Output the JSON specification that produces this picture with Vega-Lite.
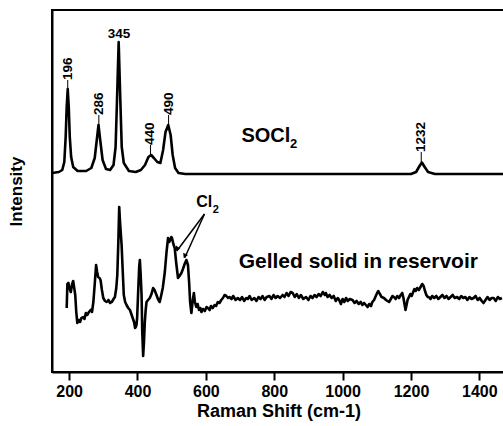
{
  "$schema": "https://vega.github.io/schema/vega-lite/v6.json",
  "width": 453,
  "height": 362,
  "autosize": {"type": "none"},
  "padding": {"left": 52, "top": 10, "right": 0, "bottom": 54},
  "config": {
    "view": {"stroke": "#000", "strokeWidth": 2},
    "font": "Liberation Sans",
    "text": {"font": "Liberation Sans", "fontWeight": "bold", "color": "#000"}
  },
  "datasets": {
    "spectra": [
      {"series": "SOCl2", "shift": 150, "intensity": 199},
      {"series": "SOCl2", "shift": 170, "intensity": 200},
      {"series": "SOCl2", "shift": 180, "intensity": 202},
      {"series": "SOCl2", "shift": 186, "intensity": 210},
      {"series": "SOCl2", "shift": 190, "intensity": 235},
      {"series": "SOCl2", "shift": 193, "intensity": 265},
      {"series": "SOCl2", "shift": 196, "intensity": 283},
      {"series": "SOCl2", "shift": 199, "intensity": 265},
      {"series": "SOCl2", "shift": 202, "intensity": 235},
      {"series": "SOCl2", "shift": 206, "intensity": 215},
      {"series": "SOCl2", "shift": 212, "intensity": 205},
      {"series": "SOCl2", "shift": 225, "intensity": 201},
      {"series": "SOCl2", "shift": 250, "intensity": 201},
      {"series": "SOCl2", "shift": 265, "intensity": 204},
      {"series": "SOCl2", "shift": 275, "intensity": 214},
      {"series": "SOCl2", "shift": 281, "intensity": 232},
      {"series": "SOCl2", "shift": 286, "intensity": 247},
      {"series": "SOCl2", "shift": 291, "intensity": 232},
      {"series": "SOCl2", "shift": 298, "intensity": 212},
      {"series": "SOCl2", "shift": 308, "intensity": 203},
      {"series": "SOCl2", "shift": 320, "intensity": 202},
      {"series": "SOCl2", "shift": 330, "intensity": 207},
      {"series": "SOCl2", "shift": 336, "intensity": 225},
      {"series": "SOCl2", "shift": 340, "intensity": 270},
      {"series": "SOCl2", "shift": 345, "intensity": 330},
      {"series": "SOCl2", "shift": 350, "intensity": 270},
      {"series": "SOCl2", "shift": 354, "intensity": 225},
      {"series": "SOCl2", "shift": 360, "intensity": 209},
      {"series": "SOCl2", "shift": 375, "intensity": 201},
      {"series": "SOCl2", "shift": 395, "intensity": 200},
      {"series": "SOCl2", "shift": 410, "intensity": 202},
      {"series": "SOCl2", "shift": 422, "intensity": 207},
      {"series": "SOCl2", "shift": 432, "intensity": 215},
      {"series": "SOCl2", "shift": 440, "intensity": 217},
      {"series": "SOCl2", "shift": 448, "intensity": 214},
      {"series": "SOCl2", "shift": 458, "intensity": 210},
      {"series": "SOCl2", "shift": 467, "intensity": 209},
      {"series": "SOCl2", "shift": 475, "intensity": 222},
      {"series": "SOCl2", "shift": 482, "intensity": 240},
      {"series": "SOCl2", "shift": 490, "intensity": 247},
      {"series": "SOCl2", "shift": 497, "intensity": 237},
      {"series": "SOCl2", "shift": 503, "intensity": 217},
      {"series": "SOCl2", "shift": 510, "intensity": 204},
      {"series": "SOCl2", "shift": 520, "intensity": 199},
      {"series": "SOCl2", "shift": 540, "intensity": 198},
      {"series": "SOCl2", "shift": 800, "intensity": 198},
      {"series": "SOCl2", "shift": 1000, "intensity": 198},
      {"series": "SOCl2", "shift": 1200, "intensity": 198},
      {"series": "SOCl2", "shift": 1215, "intensity": 200},
      {"series": "SOCl2", "shift": 1225, "intensity": 206},
      {"series": "SOCl2", "shift": 1232, "intensity": 209.5},
      {"series": "SOCl2", "shift": 1240, "intensity": 205},
      {"series": "SOCl2", "shift": 1250, "intensity": 200},
      {"series": "SOCl2", "shift": 1270, "intensity": 198},
      {"series": "SOCl2", "shift": 1475, "intensity": 198},
      {"series": "gel", "shift": 193, "intensity": 64},
      {"series": "gel", "shift": 195, "intensity": 88},
      {"series": "gel", "shift": 198, "intensity": 89},
      {"series": "gel", "shift": 201, "intensity": 84},
      {"series": "gel", "shift": 205, "intensity": 80},
      {"series": "gel", "shift": 209, "intensity": 88},
      {"series": "gel", "shift": 212, "intensity": 91},
      {"series": "gel", "shift": 215, "intensity": 84},
      {"series": "gel", "shift": 218, "intensity": 77},
      {"series": "gel", "shift": 221, "intensity": 60},
      {"series": "gel", "shift": 224, "intensity": 49},
      {"series": "gel", "shift": 228, "intensity": 52},
      {"series": "gel", "shift": 232, "intensity": 50},
      {"series": "gel", "shift": 236, "intensity": 54},
      {"series": "gel", "shift": 241, "intensity": 55},
      {"series": "gel", "shift": 245, "intensity": 53},
      {"series": "gel", "shift": 249, "intensity": 59},
      {"series": "gel", "shift": 253, "intensity": 57},
      {"series": "gel", "shift": 258, "intensity": 60},
      {"series": "gel", "shift": 263, "intensity": 62},
      {"series": "gel", "shift": 267, "intensity": 60},
      {"series": "gel", "shift": 271, "intensity": 70},
      {"series": "gel", "shift": 275, "intensity": 88},
      {"series": "gel", "shift": 279, "intensity": 107},
      {"series": "gel", "shift": 282, "intensity": 100},
      {"series": "gel", "shift": 285, "intensity": 95},
      {"series": "gel", "shift": 289, "intensity": 94},
      {"series": "gel", "shift": 292, "intensity": 92},
      {"series": "gel", "shift": 296, "intensity": 82},
      {"series": "gel", "shift": 300, "intensity": 74},
      {"series": "gel", "shift": 305, "intensity": 71},
      {"series": "gel", "shift": 310, "intensity": 70},
      {"series": "gel", "shift": 315, "intensity": 72},
      {"series": "gel", "shift": 320, "intensity": 69},
      {"series": "gel", "shift": 325, "intensity": 70},
      {"series": "gel", "shift": 330, "intensity": 73},
      {"series": "gel", "shift": 334, "intensity": 75},
      {"series": "gel", "shift": 338, "intensity": 84},
      {"series": "gel", "shift": 341, "intensity": 97},
      {"series": "gel", "shift": 344, "intensity": 130},
      {"series": "gel", "shift": 346.6, "intensity": 165},
      {"series": "gel", "shift": 349, "intensity": 150},
      {"series": "gel", "shift": 353.6, "intensity": 127},
      {"series": "gel", "shift": 357, "intensity": 100},
      {"series": "gel", "shift": 360, "intensity": 77},
      {"series": "gel", "shift": 364, "intensity": 70},
      {"series": "gel", "shift": 368, "intensity": 67},
      {"series": "gel", "shift": 373, "intensity": 64},
      {"series": "gel", "shift": 378, "intensity": 62},
      {"series": "gel", "shift": 382, "intensity": 58},
      {"series": "gel", "shift": 386, "intensity": 54},
      {"series": "gel", "shift": 390, "intensity": 50},
      {"series": "gel", "shift": 393, "intensity": 44},
      {"series": "gel", "shift": 395, "intensity": 45},
      {"series": "gel", "shift": 397, "intensity": 47},
      {"series": "gel", "shift": 399, "intensity": 54},
      {"series": "gel", "shift": 402, "intensity": 80},
      {"series": "gel", "shift": 405, "intensity": 105},
      {"series": "gel", "shift": 407, "intensity": 112},
      {"series": "gel", "shift": 409, "intensity": 100},
      {"series": "gel", "shift": 412, "intensity": 77},
      {"series": "gel", "shift": 414, "intensity": 40},
      {"series": "gel", "shift": 416.6, "intensity": 16},
      {"series": "gel", "shift": 419, "intensity": 30},
      {"series": "gel", "shift": 421.5, "intensity": 50},
      {"series": "gel", "shift": 424, "intensity": 62},
      {"series": "gel", "shift": 426.5, "intensity": 70},
      {"series": "gel", "shift": 431, "intensity": 72},
      {"series": "gel", "shift": 436, "intensity": 74},
      {"series": "gel", "shift": 441, "intensity": 78},
      {"series": "gel", "shift": 445.7, "intensity": 84},
      {"series": "gel", "shift": 450, "intensity": 82},
      {"series": "gel", "shift": 455.6, "intensity": 77},
      {"series": "gel", "shift": 460, "intensity": 73},
      {"series": "gel", "shift": 465, "intensity": 70},
      {"series": "gel", "shift": 469, "intensity": 76},
      {"series": "gel", "shift": 474, "intensity": 84},
      {"series": "gel", "shift": 480, "intensity": 100},
      {"series": "gel", "shift": 485, "intensity": 120},
      {"series": "gel", "shift": 489.5, "intensity": 134},
      {"series": "gel", "shift": 493, "intensity": 130},
      {"series": "gel", "shift": 496, "intensity": 132},
      {"series": "gel", "shift": 499, "intensity": 135},
      {"series": "gel", "shift": 501, "intensity": 134},
      {"series": "gel", "shift": 505, "intensity": 128},
      {"series": "gel", "shift": 509, "intensity": 124},
      {"series": "gel", "shift": 513, "intensity": 110},
      {"series": "gel", "shift": 518.6, "intensity": 94},
      {"series": "gel", "shift": 523, "intensity": 96},
      {"series": "gel", "shift": 528.5, "intensity": 99},
      {"series": "gel", "shift": 533, "intensity": 103},
      {"series": "gel", "shift": 538, "intensity": 108},
      {"series": "gel", "shift": 543, "intensity": 112},
      {"series": "gel", "shift": 547.7, "intensity": 107},
      {"series": "gel", "shift": 551, "intensity": 90},
      {"series": "gel", "shift": 554, "intensity": 70},
      {"series": "gel", "shift": 557.7, "intensity": 59},
      {"series": "gel", "shift": 561, "intensity": 70},
      {"series": "gel", "shift": 565, "intensity": 79},
      {"series": "gel", "shift": 568, "intensity": 70},
      {"series": "gel", "shift": 572, "intensity": 65},
      {"series": "gel", "shift": 576, "intensity": 68},
      {"series": "gel", "shift": 580, "intensity": 62},
      {"series": "gel", "shift": 584, "intensity": 64},
      {"series": "gel", "shift": 587, "intensity": 60},
      {"series": "gel", "shift": 592, "intensity": 63},
      {"series": "gel", "shift": 597, "intensity": 61},
      {"series": "gel", "shift": 602, "intensity": 65},
      {"series": "gel", "shift": 606, "intensity": 64},
      {"series": "gel", "shift": 611, "intensity": 62},
      {"series": "gel", "shift": 615, "intensity": 66},
      {"series": "gel", "shift": 620, "intensity": 64},
      {"series": "gel", "shift": 625.6, "intensity": 67},
      {"series": "gel", "shift": 630, "intensity": 66},
      {"series": "gel", "shift": 635, "intensity": 70},
      {"series": "gel", "shift": 640, "intensity": 69},
      {"series": "gel", "shift": 645, "intensity": 72},
      {"series": "gel", "shift": 650, "intensity": 74},
      {"series": "gel", "shift": 654.7, "intensity": 77},
      {"series": "gel", "shift": 660, "intensity": 76},
      {"series": "gel", "shift": 665, "intensity": 74},
      {"series": "gel", "shift": 669, "intensity": 75},
      {"series": "gel", "shift": 675, "intensity": 73},
      {"series": "gel", "shift": 680, "intensity": 76},
      {"series": "gel", "shift": 687, "intensity": 72},
      {"series": "gel", "shift": 693.5, "intensity": 74},
      {"series": "gel", "shift": 700, "intensity": 72},
      {"series": "gel", "shift": 706, "intensity": 75},
      {"series": "gel", "shift": 712, "intensity": 71},
      {"series": "gel", "shift": 718, "intensity": 74},
      {"series": "gel", "shift": 722.7, "intensity": 73},
      {"series": "gel", "shift": 728, "intensity": 76},
      {"series": "gel", "shift": 734, "intensity": 72},
      {"series": "gel", "shift": 742, "intensity": 74},
      {"series": "gel", "shift": 748, "intensity": 71},
      {"series": "gel", "shift": 754, "intensity": 75},
      {"series": "gel", "shift": 760, "intensity": 73},
      {"series": "gel", "shift": 766, "intensity": 76},
      {"series": "gel", "shift": 772, "intensity": 72},
      {"series": "gel", "shift": 778, "intensity": 75},
      {"series": "gel", "shift": 786, "intensity": 76},
      {"series": "gel", "shift": 792, "intensity": 73},
      {"series": "gel", "shift": 798, "intensity": 77},
      {"series": "gel", "shift": 804, "intensity": 74},
      {"series": "gel", "shift": 810, "intensity": 76},
      {"series": "gel", "shift": 817, "intensity": 74},
      {"series": "gel", "shift": 824.7, "intensity": 77},
      {"series": "gel", "shift": 830, "intensity": 75},
      {"series": "gel", "shift": 836, "intensity": 79},
      {"series": "gel", "shift": 842, "intensity": 76},
      {"series": "gel", "shift": 848, "intensity": 80},
      {"series": "gel", "shift": 854, "intensity": 79},
      {"series": "gel", "shift": 860, "intensity": 75},
      {"series": "gel", "shift": 866, "intensity": 78},
      {"series": "gel", "shift": 872, "intensity": 74},
      {"series": "gel", "shift": 878, "intensity": 77},
      {"series": "gel", "shift": 885, "intensity": 73},
      {"series": "gel", "shift": 893, "intensity": 75},
      {"series": "gel", "shift": 900, "intensity": 72},
      {"series": "gel", "shift": 906, "intensity": 76},
      {"series": "gel", "shift": 912, "intensity": 74},
      {"series": "gel", "shift": 918, "intensity": 77},
      {"series": "gel", "shift": 924, "intensity": 75},
      {"series": "gel", "shift": 930, "intensity": 78},
      {"series": "gel", "shift": 936, "intensity": 76},
      {"series": "gel", "shift": 942, "intensity": 80},
      {"series": "gel", "shift": 948, "intensity": 77},
      {"series": "gel", "shift": 951, "intensity": 79},
      {"series": "gel", "shift": 956, "intensity": 75},
      {"series": "gel", "shift": 962, "intensity": 77},
      {"series": "gel", "shift": 968, "intensity": 74},
      {"series": "gel", "shift": 974, "intensity": 76},
      {"series": "gel", "shift": 980, "intensity": 71},
      {"series": "gel", "shift": 986, "intensity": 74},
      {"series": "gel", "shift": 990, "intensity": 72},
      {"series": "gel", "shift": 995, "intensity": 68},
      {"series": "gel", "shift": 1000, "intensity": 73},
      {"series": "gel", "shift": 1005, "intensity": 70},
      {"series": "gel", "shift": 1010, "intensity": 74},
      {"series": "gel", "shift": 1015, "intensity": 71},
      {"series": "gel", "shift": 1021, "intensity": 73},
      {"series": "gel", "shift": 1029, "intensity": 72},
      {"series": "gel", "shift": 1035, "intensity": 69},
      {"series": "gel", "shift": 1041, "intensity": 71},
      {"series": "gel", "shift": 1047, "intensity": 68},
      {"series": "gel", "shift": 1053, "intensity": 70},
      {"series": "gel", "shift": 1058, "intensity": 67},
      {"series": "gel", "shift": 1063, "intensity": 69},
      {"series": "gel", "shift": 1068, "intensity": 67},
      {"series": "gel", "shift": 1073, "intensity": 65},
      {"series": "gel", "shift": 1078, "intensity": 68},
      {"series": "gel", "shift": 1083, "intensity": 66},
      {"series": "gel", "shift": 1087, "intensity": 70},
      {"series": "gel", "shift": 1092, "intensity": 72},
      {"series": "gel", "shift": 1097, "intensity": 76},
      {"series": "gel", "shift": 1101, "intensity": 79},
      {"series": "gel", "shift": 1104.5, "intensity": 81},
      {"series": "gel", "shift": 1109, "intensity": 78},
      {"series": "gel", "shift": 1114, "intensity": 75},
      {"series": "gel", "shift": 1121, "intensity": 74},
      {"series": "gel", "shift": 1127, "intensity": 72},
      {"series": "gel", "shift": 1131, "intensity": 71},
      {"series": "gel", "shift": 1136, "intensity": 70},
      {"series": "gel", "shift": 1141, "intensity": 73},
      {"series": "gel", "shift": 1146, "intensity": 76},
      {"series": "gel", "shift": 1150, "intensity": 75},
      {"series": "gel", "shift": 1155, "intensity": 73},
      {"series": "gel", "shift": 1160, "intensity": 76},
      {"series": "gel", "shift": 1165, "intensity": 74},
      {"series": "gel", "shift": 1170, "intensity": 77},
      {"series": "gel", "shift": 1174.5, "intensity": 79},
      {"series": "gel", "shift": 1178, "intensity": 74},
      {"series": "gel", "shift": 1181, "intensity": 68},
      {"series": "gel", "shift": 1184, "intensity": 62},
      {"series": "gel", "shift": 1187, "intensity": 67},
      {"series": "gel", "shift": 1190, "intensity": 72},
      {"series": "gel", "shift": 1194, "intensity": 75},
      {"series": "gel", "shift": 1198, "intensity": 78},
      {"series": "gel", "shift": 1202, "intensity": 76},
      {"series": "gel", "shift": 1206.5, "intensity": 80},
      {"series": "gel", "shift": 1210, "intensity": 83},
      {"series": "gel", "shift": 1214, "intensity": 81},
      {"series": "gel", "shift": 1218, "intensity": 84},
      {"series": "gel", "shift": 1223, "intensity": 82},
      {"series": "gel", "shift": 1228, "intensity": 85},
      {"series": "gel", "shift": 1233, "intensity": 88},
      {"series": "gel", "shift": 1237, "intensity": 86},
      {"series": "gel", "shift": 1241, "intensity": 81},
      {"series": "gel", "shift": 1245, "intensity": 77},
      {"series": "gel", "shift": 1249, "intensity": 75},
      {"series": "gel", "shift": 1252, "intensity": 75},
      {"series": "gel", "shift": 1257, "intensity": 73},
      {"series": "gel", "shift": 1262, "intensity": 76},
      {"series": "gel", "shift": 1268, "intensity": 74},
      {"series": "gel", "shift": 1274, "intensity": 76},
      {"series": "gel", "shift": 1280, "intensity": 73},
      {"series": "gel", "shift": 1286, "intensity": 75},
      {"series": "gel", "shift": 1292, "intensity": 77},
      {"series": "gel", "shift": 1298, "intensity": 74},
      {"series": "gel", "shift": 1304, "intensity": 76},
      {"series": "gel", "shift": 1310, "intensity": 73},
      {"series": "gel", "shift": 1316, "intensity": 75},
      {"series": "gel", "shift": 1322, "intensity": 77},
      {"series": "gel", "shift": 1328, "intensity": 74},
      {"series": "gel", "shift": 1335, "intensity": 75},
      {"series": "gel", "shift": 1341, "intensity": 73},
      {"series": "gel", "shift": 1347, "intensity": 76},
      {"series": "gel", "shift": 1353, "intensity": 74},
      {"series": "gel", "shift": 1359, "intensity": 75},
      {"series": "gel", "shift": 1365, "intensity": 72},
      {"series": "gel", "shift": 1371, "intensity": 75},
      {"series": "gel", "shift": 1377, "intensity": 73},
      {"series": "gel", "shift": 1383, "intensity": 74},
      {"series": "gel", "shift": 1389, "intensity": 76},
      {"series": "gel", "shift": 1395, "intensity": 72},
      {"series": "gel", "shift": 1401, "intensity": 74},
      {"series": "gel", "shift": 1407, "intensity": 71},
      {"series": "gel", "shift": 1412, "intensity": 69},
      {"series": "gel", "shift": 1418, "intensity": 72},
      {"series": "gel", "shift": 1424, "intensity": 75},
      {"series": "gel", "shift": 1430, "intensity": 72},
      {"series": "gel", "shift": 1436, "intensity": 74},
      {"series": "gel", "shift": 1442, "intensity": 74},
      {"series": "gel", "shift": 1448, "intensity": 71},
      {"series": "gel", "shift": 1454, "intensity": 75},
      {"series": "gel", "shift": 1460, "intensity": 73},
      {"series": "gel", "shift": 1466, "intensity": 74}
    ],
    "peaks": [
      {"label": "196", "shift": 196, "peak": 283, "top": 292},
      {"label": "286", "shift": 287, "peak": 247, "top": 257},
      {"label": "440", "shift": 438, "peak": 217, "top": 227},
      {"label": "490", "shift": 491, "peak": 247, "top": 257},
      {"label": "1232", "shift": 1230, "peak": 209.5, "top": 220}
    ],
    "arrows": [
      {"shift": 596, "intensity": 158, "shift2": 515, "intensity2": 121},
      {"shift": 596, "intensity": 158, "shift2": 538, "intensity2": 114}
    ]
  },
  "encoding": {
    "x": {
      "field": "shift",
      "type": "quantitative",
      "scale": {"domain": [150, 1475], "nice": false, "zero": false},
      "axis": {
        "title": "Raman Shift (cm-1)",
        "values": [200, 400, 600, 800, 1000, 1200, 1400],
        "format": "d",
        "grid": false,
        "domainColor": "#000",
        "domainWidth": 2,
        "tickColor": "#000",
        "tickWidth": 2,
        "tickSize": 8,
        "labelFont": "Liberation Sans",
        "labelFontWeight": "bold",
        "labelFontSize": 16,
        "labelColor": "#000",
        "labelPadding": 3,
        "labelFlush": false,
        "titleFont": "Liberation Sans",
        "titleFontWeight": "bold",
        "titleFontSize": 18,
        "titleColor": "#000",
        "titlePadding": 3
      }
    },
    "y": {
      "field": "intensity",
      "type": "quantitative",
      "scale": {"domain": [0, 362], "nice": false, "zero": false},
      "axis": {
        "title": "Intensity",
        "labels": false,
        "ticks": false,
        "grid": false,
        "domainColor": "#000",
        "domainWidth": 2,
        "titleFont": "Liberation Sans",
        "titleFontWeight": "bold",
        "titleFontSize": 17,
        "titleColor": "#000",
        "titlePadding": 27
      }
    }
  },
  "layer": [
    {
      "data": {"name": "spectra"},
      "mark": {"type": "line", "color": "#000", "strokeWidth": 2.6, "clip": true, "strokeJoin": "round"},
      "encoding": {"detail": {"field": "series"}}
    },
    {
      "data": {"name": "peaks"},
      "mark": {"type": "rule", "color": "#000", "strokeWidth": 1},
      "encoding": {
        "y": {"field": "peak", "type": "quantitative"},
        "y2": {"field": "top"}
      }
    },
    {
      "data": {"name": "peaks"},
      "mark": {"type": "text", "angle": 270, "align": "left", "baseline": "middle", "fontSize": 13.5, "fontWeight": "bold", "font": "Liberation Sans", "color": "#000"},
      "encoding": {
        "y": {"field": "top", "type": "quantitative"},
        "text": {"field": "label"}
      }
    },
    {
      "data": {"values": [{"label": "345", "shift": 346, "intensity": 334}]},
      "mark": {"type": "text", "align": "center", "baseline": "alphabetic", "fontSize": 13.5, "fontWeight": "bold", "font": "Liberation Sans", "color": "#000"},
      "encoding": {"text": {"field": "label"}}
    },
    {
      "data": {"values": [{"label": "SOCl", "shift": 704, "intensity": 230}]},
      "mark": {"type": "text", "align": "left", "baseline": "alphabetic", "fontSize": 20, "fontWeight": "bold", "font": "Liberation Sans", "color": "#000"},
      "encoding": {"text": {"field": "label"}}
    },
    {
      "data": {"values": [{"label": "2", "shift": 846, "intensity": 224}]},
      "mark": {"type": "text", "align": "left", "baseline": "alphabetic", "fontSize": 13, "fontWeight": "bold", "font": "Liberation Sans", "color": "#000"},
      "encoding": {"text": {"field": "label"}}
    },
    {
      "data": {"values": [{"label": "Gelled solid in reservoir", "shift": 696, "intensity": 104}]},
      "mark": {"type": "text", "align": "left", "baseline": "alphabetic", "fontSize": 21, "fontWeight": "bold", "font": "Liberation Sans", "color": "#000"},
      "encoding": {"text": {"field": "label"}}
    },
    {
      "data": {"values": [{"label": "Cl", "shift": 572, "intensity": 165}]},
      "mark": {"type": "text", "align": "left", "baseline": "alphabetic", "fontSize": 16, "fontWeight": "bold", "font": "Liberation Sans", "color": "#000"},
      "encoding": {"text": {"field": "label"}}
    },
    {
      "data": {"values": [{"label": "2", "shift": 620, "intensity": 159}]},
      "mark": {"type": "text", "align": "left", "baseline": "alphabetic", "fontSize": 11, "fontWeight": "bold", "font": "Liberation Sans", "color": "#000"},
      "encoding": {"text": {"field": "label"}}
    },
    {
      "data": {"name": "arrows"},
      "mark": {"type": "rule", "color": "#000", "strokeWidth": 1.5},
      "encoding": {
        "x2": {"field": "shift2"},
        "y2": {"field": "intensity2"}
      }
    },
    {
      "data": {"values": [{"shift": 515, "intensity": 123}]},
      "mark": {"type": "point", "shape": "triangle-down", "filled": true, "color": "#000", "size": 28, "angle": 37, "opacity": 1}
    },
    {
      "data": {"values": [{"shift": 538, "intensity": 116}]},
      "mark": {"type": "point", "shape": "triangle-down", "filled": true, "color": "#000", "size": 28, "angle": 24, "opacity": 1}
    }
  ]
}
